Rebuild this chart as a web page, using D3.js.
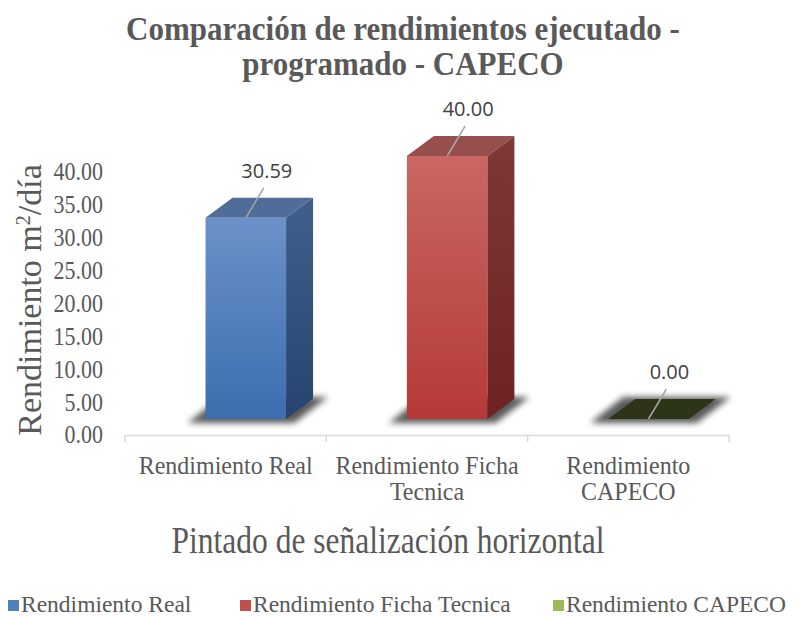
<!DOCTYPE html>
<html>
<head>
<meta charset="utf-8">
<script src="https://cdn.jsdelivr.net/npm/d3@7"></script>
<style>
  body { margin: 0; background: #fff; }
  svg text { font-family: "Liberation Serif", "Times New Roman", serif; fill: #595959; }
</style>
</head>
<body>
<div id="chart"></div>
<script>
// chart data
const categories = ["Rendimiento Real", "Rendimiento Ficha Tecnica", "Rendimiento CAPECO"];
const categoryLines = [["Rendimiento Real"], ["Rendimiento Ficha", "Tecnica"], ["Rendimiento", "CAPECO"]];
const values = [30.59, 40.00, 0.00];
const yTicks = [0, 5, 10, 15, 20, 25, 30, 35, 40];
const titleLines = ["Comparación de rendimientos ejecutado -", "programado - CAPECO"];
const xTitle = "Pintado de señalización horizontal";

// colours for each bar: legend, front top, front bottom, side top, side bottom, top face
const legendColors = ["#4f81bd", "#c0504d", "#9bbb59"];
const frontTop = ["#6b91c9", "#c96762", "#2d3519"];
const frontBottom = ["#3b6eb0", "#b53a37", "#2d3519"];
const sideTop = ["#415f8d", "#7f3836", "#2d3519"];
const sideBottom = ["#26446f", "#6f2222", "#2d3519"];
const topFace = ["#4f6d98", "#964f4c", "#2d3519"];

const W = 799, H = 617;
const svg = d3.select("#chart").append("svg").attr("width", W).attr("height", H);
const defs = svg.append("defs");

// the source picture is a bit taller than wide, so the serif texts get stretched
const tall = (px, py, k) => `translate(${px},${py}) scale(1,${k})`;

// blur used for the floor shadows
defs.append("filter").attr("id", "blur")
    .attr("x", "-20%").attr("y", "-50%").attr("width", "140%").attr("height", "200%")
  .append("feGaussianBlur").attr("stdDeviation", 3);

categories.forEach((c, i) => {
  const g1 = defs.append("linearGradient").attr("id", "front" + i)
      .attr("x1", 0).attr("y1", 0).attr("x2", 0).attr("y2", 1);
  g1.append("stop").attr("offset", "0%").attr("stop-color", frontTop[i]);
  g1.append("stop").attr("offset", "100%").attr("stop-color", frontBottom[i]);
  const g2 = defs.append("linearGradient").attr("id", "side" + i)
      .attr("x1", 0).attr("y1", 0).attr("x2", 0).attr("y2", 1);
  g2.append("stop").attr("offset", "0%").attr("stop-color", sideTop[i]);
  g2.append("stop").attr("offset", "100%").attr("stop-color", sideBottom[i]);
});

// scales
const x = d3.scaleBand().domain(categories).range([125, 729]).padding(0);
const y = d3.scaleLinear().domain([0, 40]).range([435, 172]);

const floorShift = 16;            // bars stand a little behind the axis line
const depthX = 27, depthY = 20;   // 3d depth of the columns
const frontW = x.bandwidth() * 0.4;
const frontL = c => x(c) + x.bandwidth() * 0.4;
const baseY = y(0) - floorShift;

// title
svg.append("g").selectAll("text").data(titleLines).enter().append("text")
    .attr("transform", (d, i) => tall(403, 40 + i * 35, 1.12))
    .attr("text-anchor", "middle")
    .style("font-size", "31px").style("font-weight", "bold")
    .text(d => d);

// y axis labels (no line)
const yAxis = svg.append("g").attr("transform", "translate(103,0)")
    .call(d3.axisLeft(y).tickValues(yTicks).tickFormat(d3.format(".2f")).tickSize(0).tickPadding(0));
yAxis.select(".domain").remove();
yAxis.selectAll("text").style("font-size", "22px").attr("fill", "#595959").attr("font-family", null)
    .attr("transform", "scale(1,1.12)");

// y axis title
svg.append("text")
    .attr("transform", "translate(41,300) rotate(-90)")
    .attr("text-anchor", "middle")
    .style("font-size", "34px")
    .html('Rendimiento m<tspan baseline-shift="super" style="font-size:20px">2</tspan>/día');

// x axis line with ticks
const xAxis = svg.append("g").attr("transform", `translate(0,${y(0)})`)
    .call(d3.axisBottom(x).tickSize(0).tickFormat(""));
xAxis.select(".domain").attr("stroke", "#d9d9d9").attr("stroke-width", 1.5);
xAxis.selectAll(".tick").remove();
const bounds = x.domain().map(d => x(d)).concat([x.range()[1]]);
xAxis.selectAll("line.tk").data(bounds).enter().append("line")
    .attr("x1", d => d).attr("x2", d => d).attr("y1", 0).attr("y2", 7)
    .attr("stroke", "#d9d9d9").attr("stroke-width", 1.5);

// category labels
categoryLines.forEach((lines, i) => {
  const cx = x(categories[i]) + x.bandwidth() / 2;
  svg.append("g").selectAll("text").data(lines).enter().append("text")
      .attr("transform", (d, j) => tall(cx, 474 + j * 26, 1.05))
      .attr("text-anchor", "middle")
      .style("font-size", "24px")
      .text(d => d);
});

// x axis title
svg.append("text")
    .attr("transform", tall(388, 553, 1.2))
    .attr("text-anchor", "middle")
    .style("font-size", "31.5px")
    .text(xTitle);

// bars
const bars = svg.append("g");
categories.forEach((c, i) => {
  const l = frontL(c), r = l + frontW;
  const t = y(values[i]) - floorShift;
  const g = bars.append("g");

  // floor shadow
  g.append("polygon")
      .attr("points", [[l - 18, baseY + 4], [r + 8, baseY + 4], [r + depthX + 15, baseY - depthY - 2], [l + depthX - 12, baseY - depthY - 2]].join(" "))
      .attr("fill", "#000").attr("opacity", 0.65).attr("filter", "url(#blur)");

  if (values[i] > 0) {
    g.append("rect").attr("x", l).attr("y", t).attr("width", frontW).attr("height", baseY - t)
        .attr("fill", `url(#front${i})`);
    g.append("polygon")
        .attr("points", [[r, t], [r + depthX, t - depthY], [r + depthX, baseY - depthY], [r, baseY]].join(" "))
        .attr("fill", `url(#side${i})`);
  }
  g.append("polygon")
      .attr("points", [[l, t], [r, t], [r + depthX, t - depthY], [l + depthX, t - depthY]].join(" "))
      .attr("fill", topFace[i]);

  // leader line and data label
  const cx = l + frontW / 2;
  g.append("line")
      .attr("x1", cx).attr("y1", t).attr("x2", cx + 18).attr("y2", t - 30)
      .attr("stroke", "#a6a6a6").attr("stroke-width", 1.5);
  g.append("text")
      .attr("x", cx + 21).attr("y", t - 40)
      .attr("text-anchor", "middle")
      .style("font-family", "'Open Sans', sans-serif").style("font-size", "20px").style("fill", "#404040")
      .text(values[i].toFixed(2));
});

// legend
const legendX = [8, 240, 553];
const legend = svg.append("g").selectAll("g").data(categories).enter().append("g")
    .attr("transform", (d, i) => `translate(${legendX[i]},606)`);
legend.append("rect").attr("x", 0).attr("y", -6).attr("width", 11).attr("height", 11)
    .attr("fill", (d, i) => legendColors[i]);
legend.append("text").attr("x", 13).attr("y", 6)
    .style("font-size", "23.5px")
    .text(d => d);
</script>
</body>
</html>
